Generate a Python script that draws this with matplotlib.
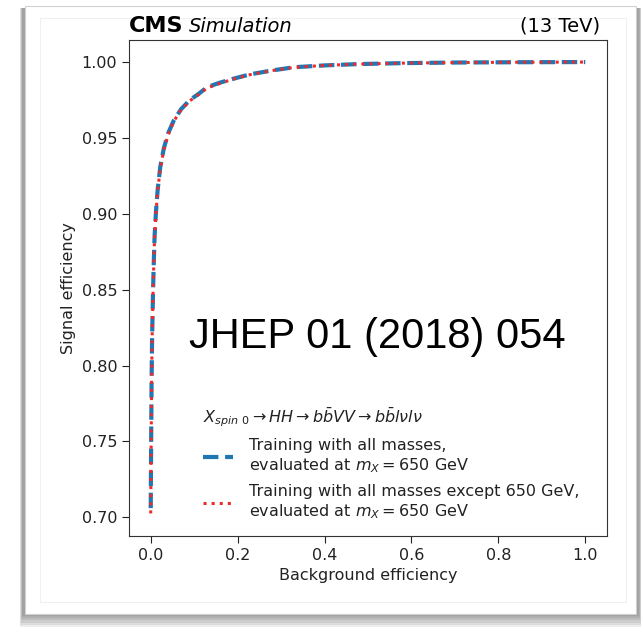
import numpy as np
import matplotlib
matplotlib.use("Agg")
import matplotlib.pyplot as plt
from matplotlib.patches import Rectangle

# ---- data ----
bkg_eff_all = [0.0, 0.0005, 0.001, 0.002, 0.003, 0.005, 0.007, 0.009, 0.012, 0.016,
               0.022, 0.030, 0.040, 0.053, 0.070, 0.090, 0.110, 0.130, 0.160, 0.190,
               0.230, 0.280, 0.330, 0.400, 0.480, 0.580, 0.700, 0.850, 1.0]
sig_eff_all = [0.706, 0.730, 0.750, 0.790, 0.815, 0.845, 0.868, 0.886, 0.901, 0.916,
               0.931, 0.943, 0.953, 0.9615, 0.969, 0.975, 0.979, 0.9835, 0.9865, 0.989,
               0.992, 0.9945, 0.9966, 0.9978, 0.9987, 0.9993, 0.9997, 0.9999, 1.0]
bkg_eff_except = [0.0, 0.0005, 0.001, 0.002, 0.003, 0.005, 0.007, 0.009, 0.012, 0.016,
                  0.022, 0.030, 0.040, 0.053, 0.070, 0.090, 0.110, 0.130, 0.160, 0.190,
                  0.230, 0.280, 0.330, 0.400, 0.480, 0.580, 0.700, 0.850, 1.0]
sig_eff_except = [0.7025, 0.728, 0.749, 0.789, 0.814, 0.844, 0.867, 0.885, 0.900, 0.915,
                  0.930, 0.942, 0.952, 0.961, 0.9685, 0.9745, 0.9785, 0.983, 0.986, 0.9888,
                  0.9918, 0.9944, 0.9965, 0.9978, 0.9987, 0.9993, 0.9997, 0.9999, 1.0]

label_all = "Training with all masses,\nevaluated at $m_{X} = 650$ GeV"
label_except = "Training with all masses except 650 GeV,\nevaluated at $m_{X} = 650$ GeV"
legend_title = r"$X_{spin\ 0} \rightarrow HH \rightarrow b\bar{b}VV \rightarrow b\bar{b}l\nu l\nu$"
x_ticks = [0.0, 0.2, 0.4, 0.6, 0.8, 1.0]
y_ticks = [0.70, 0.75, 0.80, 0.85, 0.90, 0.95, 1.00]

W, H = 641, 629
fig = plt.figure(figsize=(W / 100, H / 100), dpi=100)
fig.patch.set_facecolor("white")


def fx(px):
    return px / W


def fy(py):
    return 1 - py / H


def frame_rect(x0, y0, x1, y1, **kw):
    """Rectangle given in pixel coords (top-left origin)."""
    r = Rectangle((fx(x0), fy(y1)), fx(x1) - fx(x0), fy(y0) - fy(y1),
                  transform=fig.transFigure, **kw)
    fig.add_artist(r)
    return r


# screenshot-like frame with soft shadow
for i in range(6):
    frame_rect(22 - i * 0.5, 8, 639 + i * 0.5, 616 + i * 2.2,
               facecolor="black", alpha=0.07, edgecolor="none", zorder=-10)
frame_rect(25, 6, 636, 614, facecolor="white", edgecolor="#d0d0d0",
           linewidth=0.8, zorder=-5)
frame_rect(40, 18, 626, 602, facecolor="white", edgecolor="#f0f0f0",
           linewidth=0.8, zorder=-4)

ax = fig.add_axes([fx(129), fy(536), fx(607) - fx(129), fy(39.5) - fy(536)])
ax.plot(bkg_eff_all, sig_eff_all, linestyle="--", color="#1f77b4", linewidth=3.0,
        label=label_all)
ax.plot(bkg_eff_except, sig_eff_except, linestyle=":", color="#ee2a2a", linewidth=2.2,
        label=label_except)

ax.set_xticks(x_ticks)
ax.set_yticks(y_ticks)
ax.set_xticklabels([f"{v:.1f}" for v in x_ticks])
ax.set_yticklabels([f"{v:.2f}" for v in y_ticks])
ax.tick_params(labelsize=11.5, colors="#222222", length=5)
ax.set_xlabel("Background efficiency", fontsize=11.5, color="#222222")
ax.set_ylabel("Signal efficiency", fontsize=11.5, color="#222222")
for s in ax.spines.values():
    s.set_color("#333333")

leg = ax.legend(title=legend_title, loc="upper left",
                bbox_to_anchor=((203 - 129) / 478, (536 - 405) / 496.5),
                frameon=False, fontsize=11.5, title_fontsize=11.5,
                alignment="left", borderpad=0, borderaxespad=0,
                handlelength=1.9, handletextpad=1.0, labelspacing=0.6)
for t in leg.get_texts():
    t.set_color("#222222")
leg.get_title().set_color("#222222")

ax.text(0.0, 1.008, "CMS", transform=ax.transAxes, fontsize=16, fontweight="bold",
        ha="left", va="bottom")
ax.text(0.125, 1.008, "Simulation", transform=ax.transAxes, fontsize=14, style="italic",
        ha="left", va="bottom")
ax.text(0.985, 1.008, "(13 TeV)", transform=ax.transAxes, fontsize=14,
        ha="right", va="bottom")

fig.text(fx(377), fy(337), "JHEP 01 (2018) 054", fontsize=30, family="Liberation Sans",
         ha="center", va="center", color="black")

fig.savefig("out.png", dpi=100, facecolor="white")
